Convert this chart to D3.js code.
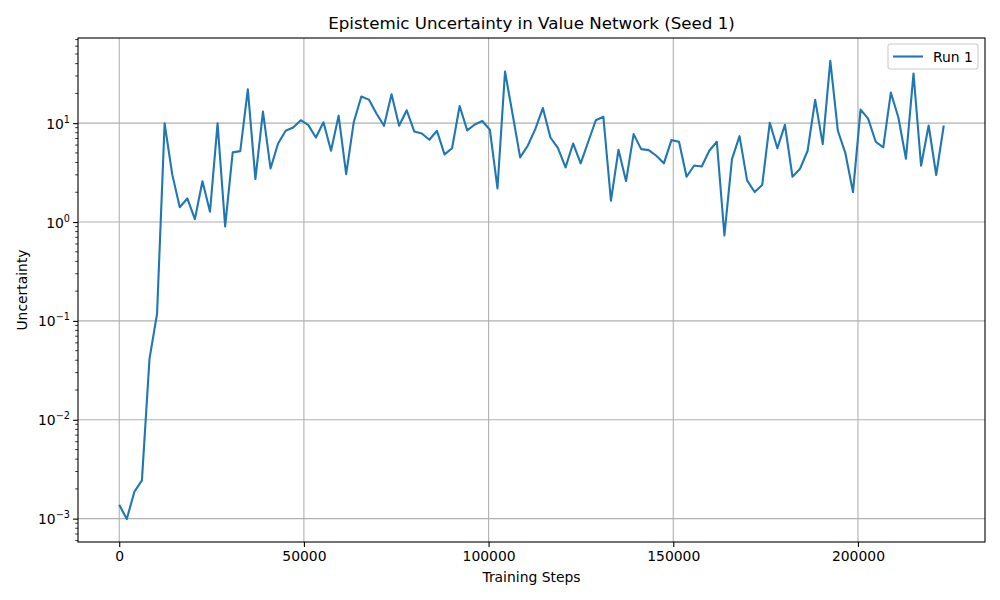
<!DOCTYPE html>
<html>
<head>
<meta charset="utf-8">
<script src="https://cdn.jsdelivr.net/npm/d3@7"></script>
<style>
  body { margin: 0; background: #fff; }
  svg text { font-family: 'DejaVu Sans', sans-serif; fill: #000; }
</style>
</head>
<body>
<svg width="1000" height="600"></svg>
<script>
// step spacing between logged points
const stepSize = 2048;

const uncertainty = [
  0.00138, 0.00099, 0.00187, 0.00244, 0.0413, 0.118, 9.95, 3.05, 1.41, 1.73,
  1.07, 2.58, 1.27, 9.95, 0.90, 5.06, 5.21, 22.0, 2.72, 13.1,
  3.48, 6.23, 8.37, 9.04, 10.7, 9.55, 7.16, 10.2, 5.26, 11.9,
  3.05, 10.2, 18.6, 17.3, 12.5, 9.4, 19.6, 9.4, 13.5, 8.24,
  7.87, 6.79, 8.37, 4.83, 5.58, 14.9, 8.44, 9.7, 10.5, 8.57,
  2.19, 33.3, 12.3, 4.50, 5.91, 8.7, 14.2, 7.16, 5.58, 3.57,
  6.23, 3.92, 6.48, 10.7, 11.6, 1.64, 5.38, 2.59, 7.74, 5.46,
  5.33, 4.68, 3.92, 6.73, 6.48, 2.87, 3.73, 3.65, 5.26, 6.48,
  0.733, 4.33, 7.39, 2.64, 2.01, 2.37, 10.1, 5.58, 9.62, 2.87,
  3.46, 5.26, 17.2, 6.14, 42.6, 8.37, 4.94, 2.01, 13.7, 11.1,
  6.48, 5.68, 20.4, 11.4, 4.37, 31.8, 3.71, 9.47, 2.99, 9.47
];
const steps = uncertainty.map((_, i) => i * stepSize);

const xTicks = [0, 50000, 100000, 150000, 200000];
const yTicks = [1e-3, 1e-2, 1e-1, 1e0, 1e1];
const seriesName = 'Run 1';

const data = steps.map((s, i) => ({ step: s, value: uncertainty[i] }));

const svg = d3.select('svg');
const width = +svg.attr('width');
const height = +svg.attr('height');
const margin = { top: 38, right: 15, bottom: 58, left: 78 };
const innerWidth = width - margin.left - margin.right;
const innerHeight = height - margin.top - margin.bottom;

const root = svg.append('g')
  .attr('transform', `translate(${margin.left}, ${margin.top})`);

// matplotlib-style 5% margins
const [xMin, xMax] = d3.extent(data, d => d.step);
const xPad = (xMax - xMin) * 0.05;
const xScale = d3.scaleLinear()
  .domain([xMin - xPad, xMax + xPad])
  .range([0, innerWidth]);

const [lMin, lMax] = d3.extent(data, d => Math.log10(d.value));
const lPad = (lMax - lMin) * 0.05;
const yScale = d3.scaleLog()
  .domain([Math.pow(10, lMin - lPad), Math.pow(10, lMax + lPad)])
  .range([innerHeight, 0]);

// grid
root.append('g')
  .selectAll('line')
  .data(xTicks)
  .join('line')
  .attr('x1', d => xScale(d)).attr('x2', d => xScale(d))
  .attr('y1', 0).attr('y2', innerHeight)
  .attr('stroke', '#b0b0b0').attr('stroke-width', 1.1);
root.append('g')
  .selectAll('line')
  .data(yTicks)
  .join('line')
  .attr('x1', 0).attr('x2', innerWidth)
  .attr('y1', d => yScale(d)).attr('y2', d => yScale(d))
  .attr('stroke', '#b0b0b0').attr('stroke-width', 1.1);

// x axis
const xAxis = d3.axisBottom(xScale)
  .tickValues(xTicks)
  .tickFormat(d3.format('d'))
  .tickSize(4.9)
  .tickPadding(4.5);
const xg = root.append('g')
  .attr('transform', `translate(0, ${innerHeight})`)
  .call(xAxis)
  .attr('font-family', null)
  .attr('font-size', 13.9);
xg.select('.domain').remove();
xg.selectAll('.tick line').attr('stroke-width', 1.1);

// y axis: major ticks with superscript labels
const yAxis = d3.axisLeft(yScale)
  .tickValues(yTicks)
  .tickFormat('')
  .tickSize(4.9)
  .tickPadding(3.5);
const yg = root.append('g').call(yAxis)
  .attr('font-family', null)
  .attr('font-size', 13.9);
yg.select('.domain').remove();
yg.selectAll('.tick line').attr('stroke-width', 1.1);
yg.selectAll('.tick text').remove();
yg.selectAll('.tick')
  .append('text')
  .attr('x', -8)
  .attr('y', 5)
  .attr('text-anchor', 'end')
  .each(function(d) {
    const e = Math.round(Math.log10(d));
    const t = d3.select(this);
    t.append('tspan').text('10');
    t.append('tspan')
      .attr('font-size', 9.7)
      .attr('dy', -6)
      .text(e < 0 ? '\u2212' + Math.abs(e) : String(e));
  });

// y minor ticks
const [dLo, dHi] = yScale.domain();
const minor = [];
for (let e = Math.floor(Math.log10(dLo)); e <= Math.ceil(Math.log10(dHi)); e++) {
  for (let m = 2; m <= 9; m++) {
    const v = m * Math.pow(10, e);
    if (v >= dLo && v <= dHi) minor.push(v);
  }
}
root.append('g')
  .selectAll('line')
  .data(minor)
  .join('line')
  .attr('x1', -2.8).attr('x2', 0)
  .attr('y1', d => yScale(d)).attr('y2', d => yScale(d))
  .attr('stroke', '#000').attr('stroke-width', 0.8);

// frame
root.append('rect')
  .attr('width', innerWidth).attr('height', innerHeight)
  .attr('fill', 'none').attr('stroke', '#000').attr('stroke-width', 1.1);

// line
const line = d3.line()
  .x(d => xScale(d.step))
  .y(d => yScale(d.value));
root.append('path')
  .attr('d', line(data))
  .attr('fill', 'none')
  .attr('stroke', '#1f77b4')
  .attr('stroke-width', 2.1)
  .attr('stroke-linejoin', 'round')
  .attr('stroke-linecap', 'butt');

// title and labels
root.append('text')
  .attr('x', innerWidth / 2).attr('y', -9)
  .attr('text-anchor', 'middle')
  .attr('font-size', 16.7)
  .text('Epistemic Uncertainty in Value Network (Seed 1)');
root.append('text')
  .attr('x', innerWidth / 2).attr('y', innerHeight + 40)
  .attr('text-anchor', 'middle')
  .attr('font-size', 13.9)
  .text('Training Steps');
root.append('text')
  .attr('transform', `translate(${-51}, ${innerHeight / 2}) rotate(-90)`)
  .attr('text-anchor', 'middle')
  .attr('font-size', 13.9)
  .text('Uncertainty');

// legend
const legend = root.append('g')
  .attr('transform', `translate(${innerWidth - 97}, 6)`);
legend.append('rect')
  .attr('width', 90).attr('height', 25)
  .attr('rx', 2.5)
  .attr('fill', '#fff').attr('fill-opacity', 0.8)
  .attr('stroke', '#cccccc').attr('stroke-width', 1.1);
legend.append('line')
  .attr('x1', 5).attr('x2', 35)
  .attr('y1', 12.5).attr('y2', 12.5)
  .attr('stroke', '#1f77b4').attr('stroke-width', 2.1);
legend.append('text')
  .attr('x', 45).attr('y', 17.5)
  .attr('font-size', 13.9)
  .text(seriesName);
</script>
</body>
</html>
